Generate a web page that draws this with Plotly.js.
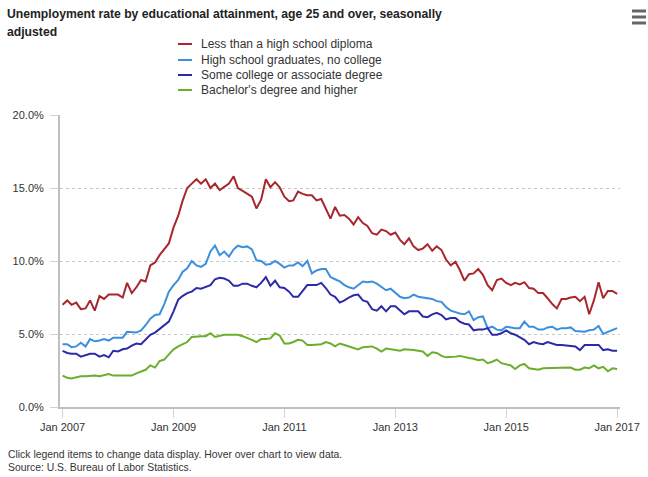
<!DOCTYPE html>
<html>
<head>
<meta charset="utf-8">
<script src="https://cdn.plot.ly/plotly-3.0.1.min.js"></script>
<style>html,body{margin:0;padding:0;background:#fff;}#chart{width:648px;height:477px;}</style>
</head>
<body>
<div id="chart"></div>
<script>
// Monthly series, Jan 2007 .. Jan 2017 (121 months)
const startYear = 2007;
const monthCount = 121;

const titleLines = [
  "Unemployment rate by educational attainment, age 25 and over, seasonally",
  "adjusted"
];
const seriesNames = [
  "Less than a high school diploma",
  "High school graduates, no college",
  "Some college or associate degree",
  "Bachelor's degree and higher"
];
const seriesColors = ["#a8272d", "#3b8fdd", "#2b2ba8", "#6aae2c"];

const lessThanHS = [
  7.0, 7.3, 7.0, 7.15, 6.7, 6.75, 7.3, 6.6, 7.6, 7.4, 7.7, 7.7,
  7.7, 7.5, 8.5, 7.8, 8.2, 8.7, 8.6, 9.7, 9.9, 10.4, 10.8, 11.2,
  12.3, 13.1, 14.1, 15.0, 15.3, 15.6, 15.3, 15.6, 15.0, 15.3, 14.85, 15.1,
  15.3, 15.8, 15.0, 14.8, 14.6, 14.4, 13.6, 14.2, 15.6, 15.05, 15.4, 15.05,
  14.4, 14.1, 14.15, 14.75, 14.6, 14.5, 14.5, 14.15, 14.25, 13.6, 12.9, 13.7,
  13.1, 13.15, 12.9, 12.5, 13.0, 12.6, 12.4, 11.9, 11.8, 12.15, 12.05, 11.8,
  11.95, 11.45, 11.15, 11.55, 11.0, 10.75, 10.85, 11.15, 10.7, 11.0, 10.75, 10.1,
  9.7, 9.95, 9.4, 8.65, 9.1, 9.15, 9.45, 9.05, 8.35, 8.0, 8.7, 8.8,
  8.5, 8.35, 8.5, 8.4, 8.55, 8.15, 8.1, 7.8, 7.8, 7.45, 7.05, 6.75,
  7.4, 7.4, 7.5, 7.55, 7.25, 7.55, 6.35, 7.3, 8.55, 7.45, 7.95, 7.95,
  7.75
];
const highSchool = [
  4.3, 4.3, 4.1, 4.15, 4.4, 4.15, 4.65, 4.5, 4.55, 4.65, 4.55, 4.75,
  4.75, 4.75, 5.15, 5.1, 5.1, 5.25, 5.6, 6.05, 6.3, 6.35, 7.05, 7.9,
  8.35, 8.7, 9.25, 9.5, 10.0, 9.7, 9.6, 9.8, 10.65, 11.05, 10.4, 10.65,
  10.3, 10.8, 11.05, 10.95, 11.0, 10.8, 10.05, 10.0, 9.75, 9.8, 10.0, 9.8,
  9.55, 9.7, 9.7, 9.9, 9.65, 10.0, 9.15, 9.35, 9.45, 9.45, 8.9, 8.75,
  8.6, 8.35, 8.2, 8.1, 8.35, 8.6, 8.55, 8.6, 8.45, 8.25, 8.0, 8.1,
  7.85, 7.55, 7.45, 7.5, 7.7, 7.55, 7.5, 7.45, 7.4, 7.25, 7.2, 6.85,
  6.6, 6.5, 6.4, 6.35, 6.55, 5.95, 6.15, 6.2, 5.4, 5.5, 5.3, 5.25,
  5.5, 5.45, 5.4, 5.4, 5.85, 5.5, 5.5, 5.3, 5.3, 5.45, 5.5, 5.3,
  5.4, 5.4, 5.45, 5.2, 5.15, 5.15, 5.25, 5.3, 5.55, 5.0, 5.15, 5.3,
  5.4
];
const someCollege = [
  3.85, 3.7, 3.65, 3.65, 3.45, 3.55, 3.65, 3.65, 3.45, 3.55, 3.4, 3.85,
  3.8, 3.95, 4.0, 4.2, 4.35, 4.3, 4.6, 4.95, 5.1, 5.35, 5.65, 5.85,
  6.55, 7.35, 7.6, 7.8, 7.9, 8.15, 8.1, 8.2, 8.35, 8.75, 8.85, 8.8,
  8.65, 8.3, 8.3, 8.45, 8.45, 8.3, 8.2, 8.5, 8.9, 8.3, 8.65, 8.2,
  8.15, 7.9, 7.55, 7.55, 7.95, 8.35, 8.35, 8.35, 8.5, 8.15, 7.7, 7.55,
  7.15, 7.3, 7.5, 7.65, 7.7, 7.3, 7.2, 6.7, 6.6, 6.9, 6.55, 6.9,
  6.9, 6.6, 6.35, 6.55, 6.55, 6.55, 6.2, 6.15, 6.35, 6.45, 6.3, 6.0,
  6.1, 6.1, 5.85, 5.7, 5.65, 5.25, 5.3, 5.3, 5.4, 4.95, 4.95, 5.05,
  5.25, 5.05, 4.95, 4.75, 4.6, 4.3, 4.45, 4.35, 4.3, 4.45, 4.35, 4.25,
  4.25, 4.2, 4.2, 4.15, 3.9, 4.25, 4.25, 4.25, 4.25, 3.9, 3.95, 3.85,
  3.85
];
const bachelors = [
  2.15, 2.0, 1.95, 2.05, 2.1, 2.1, 2.15, 2.15, 2.1, 2.15, 2.25, 2.15,
  2.15, 2.1, 2.15, 2.15, 2.3, 2.45, 2.55, 2.85, 2.7, 3.15, 3.25, 3.6,
  3.95, 4.15, 4.3, 4.45, 4.8, 4.85, 4.85, 4.85, 5.05, 4.8, 4.9, 4.95,
  4.95, 4.95, 4.95, 4.85, 4.75, 4.6, 4.45, 4.65, 4.65, 4.7, 5.05, 4.9,
  4.35, 4.35, 4.45, 4.6, 4.55, 4.25, 4.25, 4.25, 4.3, 4.45, 4.35, 4.15,
  4.35, 4.25, 4.15, 4.05, 3.95, 4.1, 4.15, 4.15, 4.0, 3.8, 4.0, 3.95,
  3.95, 3.85, 3.95, 3.95, 3.9, 3.85, 3.8, 3.5, 3.75, 3.7, 3.5, 3.4,
  3.4, 3.45, 3.5, 3.4, 3.35, 3.3, 3.2, 3.25, 3.0, 3.1, 3.25, 3.0,
  2.95, 2.85, 2.6, 2.85, 2.95, 2.65, 2.6, 2.55, 2.65, 2.65, 2.65, 2.65,
  2.65, 2.65, 2.7, 2.55, 2.55, 2.7, 2.65, 2.85, 2.65, 2.75, 2.45, 2.65,
  2.6
];

const tickVals = ["2007-01-01", "2009-01-01", "2011-01-01", "2013-01-01", "2015-01-01", "2017-01-01"];
const tickText = ["Jan 2007", "Jan 2009", "Jan 2011", "Jan 2013", "Jan 2015", "Jan 2017"];
const yTickVals = [0, 5, 10, 15, 20];
const yTickText = ["0.0%", "5.0%", "10.0%", "15.0%", "20.0%"];
const footNotes = [
  "Click legend items to change data display. Hover over chart to view data.",
  "Source: U.S. Bureau of Labor Statistics."
];

const months = [];
for (let i = 0; i < monthCount; i++) {
  const y = startYear + Math.floor(i / 12);
  const m = (i % 12) + 1;
  months.push(y + "-" + (m < 10 ? "0" + m : m) + "-01");
}

const allSeries = [lessThanHS, highSchool, someCollege, bachelors];

// pixel helpers (plot area: x 60..620, y 115..407)
const L = 60, R = 28, T = 115, B = 70, W = 648, H = 477;
const pw = W - L - R, ph = H - T - B;
const px = x => (x - L) / pw;
const py = y => (H - B - y) / ph;
const FONT = "Liberation Sans, Arial, sans-serif";

const traces = allSeries.map((vals, k) => ({
  type: "scatter",
  mode: "lines",
  name: seriesNames[k],
  x: months,
  y: vals,
  line: { color: seriesColors[k], width: 2 },
  hovertemplate: "%{y:.1f}%<extra>" + seriesNames[k] + "</extra>",
  showlegend: false
}));

const shapes = [];
const annotations = [];

// title lines
[14, 32].forEach((yy, k) => annotations.push({
  xref: "paper", yref: "paper", x: px(5), y: py(yy), xanchor: "left", yanchor: "middle",
  showarrow: false, text: "<b>" + titleLines[k] + "</b>",
  font: { family: FONT, size: 12.2, color: "#222" }
}));

// legend
const legendY = [44, 60, 75, 90];
seriesNames.forEach((n, k) => {
  shapes.push({ type: "line", xref: "paper", yref: "paper",
    x0: px(178), x1: px(192), y0: py(legendY[k]), y1: py(legendY[k]),
    line: { color: seriesColors[k], width: 2 } });
  annotations.push({ xref: "paper", yref: "paper", x: px(199), y: py(legendY[k]),
    xanchor: "left", yanchor: "middle", showarrow: false, text: n,
    font: { family: FONT, size: 12, color: "#333" } });
});
// menu icon
[11, 17, 23].forEach(yy => shapes.push({ type: "line", xref: "paper", yref: "paper",
  x0: px(632), x1: px(646), y0: py(yy), y1: py(yy), line: { color: "#666", width: 3 } }));

// footnotes
[454, 467].forEach((yy, k) => annotations.push({
  xref: "paper", yref: "paper", x: px(6), y: py(yy), xanchor: "left", yanchor: "middle",
  showarrow: false, text: footNotes[k],
  font: { family: FONT, size: 10.4, color: "#333" }
}));

const layout = {
  width: W, height: H,
  margin: { l: L, r: R, t: T, b: B },
  paper_bgcolor: "#fff", plot_bgcolor: "#fff",
  xaxis: {
    type: "date",
    range: ["2006-12-15", "2017-01-20"],
    tickvals: tickVals, ticktext: tickText,
    ticks: "outside", ticklen: 9, tickcolor: "#c8d4e4", tickwidth: 1,
    showline: true, linecolor: "#bfbfbf", linewidth: 2,
    showgrid: false, zeroline: false,
    tickfont: { family: FONT, size: 11, color: "#333" }
  },
  yaxis: {
    range: [0, 20],
    tickvals: yTickVals, ticktext: yTickText,
    ticks: "outside", ticklen: 8, tickcolor: "#c8d4e4", tickwidth: 1,
    ticklabelstandoff: 4,
    showline: true, linecolor: "#bfbfbf", linewidth: 2,
    showgrid: true, gridcolor: "#c8c8c8", griddash: "dot", gridwidth: 1,
    zeroline: false,
    tickfont: { family: FONT, size: 11, color: "#333" }
  },
  shapes: shapes,
  annotations: annotations,
  hovermode: "x unified"
};

Plotly.newPlot("chart", traces, layout, { displayModeBar: false, responsive: false });
</script>
</body>
</html>
